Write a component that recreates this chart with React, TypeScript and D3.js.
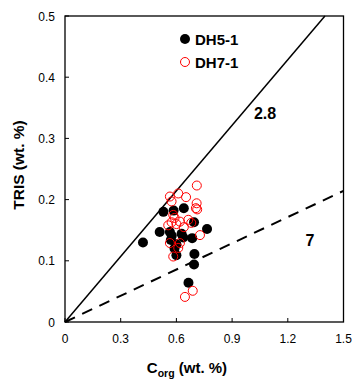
import React from "react";
import * as d3 from "d3";

const xTicks = [0, 0.3, 0.6, 0.9, 1.2, 1.5];
const yTicks = [0, 0.1, 0.2, 0.3, 0.4, 0.5];
const seriesNames = ["DH5-1", "DH7-1"];
const dh5X = [0.42, 0.51, 0.53, 0.585, 0.64, 0.695, 0.765, 0.565, 0.575, 0.628, 0.685, 0.57, 0.59, 0.60, 0.637, 0.697, 0.695, 0.665, 0.60];
const dh5Y = [0.130, 0.147, 0.180, 0.182, 0.186, 0.163, 0.152, 0.147, 0.141, 0.144, 0.137, 0.134, 0.120, 0.109, 0.138, 0.111, 0.094, 0.064, 0.127];
const dh7X = [0.71, 0.565, 0.61, 0.652, 0.574, 0.709, 0.712, 0.705, 0.583, 0.59, 0.619, 0.664, 0.68, 0.574, 0.556, 0.727, 0.565, 0.619, 0.61, 0.583, 0.688, 0.646, 0.60, 0.64];
const dh7Y = [0.223, 0.205, 0.210, 0.204, 0.197, 0.194, 0.184, 0.186, 0.175, 0.170, 0.164, 0.167, 0.162, 0.163, 0.158, 0.142, 0.129, 0.129, 0.121, 0.107, 0.051, 0.041, 0.160, 0.155];
const ratios = [2.8, 7];

export default function App() {
  const W = 359, H = 388;
  const left = 65, right = 343.5, top = 16, bottom = 322;
  const x = d3.scaleLinear().domain([0, 1.5]).range([left, right]);
  const y = d3.scaleLinear().domain([0, 0.5]).range([bottom, top]);
  const font = "'Liberation Sans', Arial, sans-serif";

  const lineFor = (r: number) => {
    const xEnd = Math.min(1.5, 0.5 * r);
    return d3.line<[number, number]>().x(d => x(d[0])).y(d => y(d[1]))([[0, 0], [xEnd, xEnd / r]]) || "";
  };

  return (
    <svg width={W} height={H} style={{ position: "absolute", left: 0, top: 0, background: "#fff" }}>
      <rect x={left} y={top} width={right - left} height={bottom - top} fill="none" stroke="#000" strokeWidth={1.3} />
      {xTicks.map(t => (
        <g key={"x" + t}>
          <line x1={x(t)} x2={x(t)} y1={bottom} y2={bottom - 4} stroke="#000" />
          <text x={x(t)} y={343} textAnchor="middle" fontSize={12} fontFamily={font}>{t}</text>
        </g>
      ))}
      {yTicks.map(t => (
        <g key={"y" + t}>
          <line x1={left} x2={left + 4} y1={y(t)} y2={y(t)} stroke="#000" />
          <text x={55} y={y(t) + 4.5} textAnchor="end" fontSize={12} fontFamily={font}>{t}</text>
        </g>
      ))}
      <path d={lineFor(ratios[0])} stroke="#000" strokeWidth={1.5} fill="none" />
      <path d={lineFor(ratios[1])} stroke="#000" strokeWidth={2} strokeDasharray="11,8" fill="none" />
      <text x={265} y={119} textAnchor="middle" fontSize={16} fontWeight="bold" fontFamily={font}>{ratios[0]}</text>
      <text x={310} y={246} textAnchor="middle" fontSize={16} fontWeight="bold" fontFamily={font}>{ratios[1]}</text>
      {dh5X.map((v, i) => (
        <circle key={"a" + i} cx={x(v)} cy={y(dh5Y[i])} r={5} fill="#000" />
      ))}
      {dh7X.map((v, i) => (
        <circle key={"b" + i} cx={x(v)} cy={y(dh7Y[i])} r={4.5} fill="none" stroke="#ff0000" strokeWidth={1} />
      ))}
      <circle cx={185} cy={39} r={5} fill="#000" />
      <text x={195} y={44.5} fontSize={15} fontWeight="bold" fontFamily={font}>{seriesNames[0]}</text>
      <circle cx={185} cy={62} r={4.5} fill="none" stroke="#ff0000" />
      <text x={195} y={67.5} fontSize={15} fontWeight="bold" fontFamily={font}>{seriesNames[1]}</text>
      <text transform="translate(24,165) rotate(-90)" textAnchor="middle" fontSize={15.5} fontWeight="bold" fontFamily={font}>TRIS (wt. %)</text>
      <text x={187} y={373} textAnchor="middle" fontSize={15} fontWeight="bold" fontFamily={font}>
        C<tspan fontSize={10.5} dy={4}>org</tspan><tspan dy={-4}> (wt. %)</tspan>
      </text>
    </svg>
  );
}
